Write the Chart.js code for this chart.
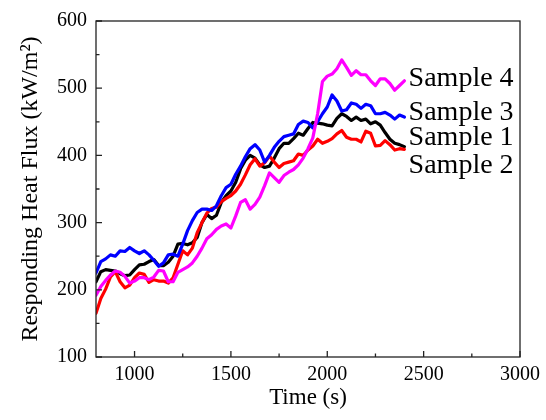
<!DOCTYPE html>
<html lang="en">
<head>
    <meta charset="UTF-8">
    <title>Responding Heat Flux</title>
    <script src="https://cdn.jsdelivr.net/npm/chart.js"></script>
    <style>
        body { margin: 0; background: #fff; }
    </style>
</head>
<body>
    <canvas id="fluxChart" width="546" height="420"></canvas>

    <script>
        // Time axis (s), shared by all four samples
        const timeS = [800, 825, 850, 875, 900, 925, 950, 975, 1000, 1025, 1050, 1075, 1100, 1125, 1150, 1175,
            1200, 1225, 1250, 1275, 1300, 1325, 1350, 1375, 1400, 1425, 1450, 1475, 1500, 1525, 1550, 1575,
            1600, 1625, 1650, 1675, 1700, 1725, 1750, 1775, 1800, 1825, 1850, 1875, 1900, 1925, 1950, 1975,
            2000, 2025, 2050, 2075, 2100, 2125, 2150, 2175, 2200, 2225, 2250, 2275, 2300, 2325, 2350, 2375, 2400];

        // Responding heat flux (kW/m2)
        const sample1 = [212, 227, 230, 229, 228, 224, 221, 222, 230, 237, 238, 242, 245, 236, 236, 241,
            250, 268, 269, 267, 270, 278, 300, 312, 306, 311, 330, 340, 347, 360, 380, 393,
            400, 396, 386, 382, 384, 396, 410, 418, 418, 425, 433, 430, 440, 449, 448, 447,
            445, 444, 455, 462, 458, 452, 457, 452, 454, 447, 450, 445, 434, 424, 418, 416, 413];
        const sample2 = [165, 187, 201, 219, 227, 212, 203, 207, 218, 225, 223, 211, 215, 213, 213, 210,
            218, 238, 258, 252, 262, 285, 300, 314, 321, 323, 331, 336, 340, 347, 357, 371,
            386, 395, 384, 389, 399, 390, 382, 388, 390, 392, 402, 400, 408, 414, 424, 418,
            421, 425, 432, 437, 427, 424, 424, 420, 436, 433, 414, 415, 422, 416, 408, 410, 409];
        const sample3 = [225, 242, 246, 252, 250, 258, 257, 263, 258, 254, 258, 252, 244, 235, 240, 252,
            253, 250, 268, 288, 303, 315, 320, 320, 318, 325, 340, 352, 357, 372, 384, 398,
            410, 416, 408, 390, 400, 412, 421, 428, 430, 432, 446, 451, 449, 441, 450, 462,
            472, 490, 481, 466, 468, 478, 476, 470, 476, 474, 462, 462, 464, 460, 454, 460, 457];
        const sample4 = [192, 205, 214, 222, 228, 226, 220, 210, 213, 218, 218, 215, 219, 229, 228, 212,
            212, 226, 230, 234, 240, 250, 262, 276, 282, 290, 295, 298, 292, 310, 330, 334,
            320, 327, 338, 355, 374, 367, 360, 370, 375, 379, 386, 396, 410, 426, 462, 510,
            518, 521, 529, 542, 531, 519, 526, 520, 520, 511, 504, 514, 514, 507, 497, 504, 511];

        // Axis ticks
        const xMajorTicks = [1000, 1500, 2000, 2500, 3000];
        const xMinorTicks = [1250, 1750, 2250, 2750];
        const yMajorTicks = [100, 200, 300, 400, 500, 600];
        const yMinorTicks = [150, 250, 350, 450, 550];

        // Labels written next to the curve ends
        const sampleNames = ['Sample 4', 'Sample 3', 'Sample 1', 'Sample 2'];
        const labelTime = 2422;
        const labelFlux = [504, 452, 415, 374];

        const serif = '"Liberation Serif", "Times New Roman", serif';

        function toPoints(values) {
            return timeS.map((t, i) => ({ x: t, y: values[i] }));
        }

        // Draws the box, inward tick marks and the sample labels
        const frameAndTicks = {
            id: 'frameAndTicks',
            afterDraw(chart) {
                const ctx = chart.ctx;
                const a = chart.chartArea;
                const x = chart.scales.x;
                const y = chart.scales.y;
                ctx.save();
                ctx.strokeStyle = '#222';
                ctx.lineWidth = 1.3;
                ctx.strokeRect(a.left, a.top, a.right - a.left, a.bottom - a.top);

                ctx.beginPath();
                xMajorTicks.forEach(v => {
                    const px = x.getPixelForValue(v);
                    ctx.moveTo(px, a.bottom); ctx.lineTo(px, a.bottom - 6);
                });
                xMinorTicks.forEach(v => {
                    const px = x.getPixelForValue(v);
                    ctx.moveTo(px, a.bottom); ctx.lineTo(px, a.bottom - 3.5);
                });
                yMajorTicks.forEach(v => {
                    const py = y.getPixelForValue(v);
                    ctx.moveTo(a.left, py); ctx.lineTo(a.left + 6, py);
                });
                yMinorTicks.forEach(v => {
                    const py = y.getPixelForValue(v);
                    ctx.moveTo(a.left, py); ctx.lineTo(a.left + 3.5, py);
                });
                ctx.stroke();

                ctx.fillStyle = '#000';
                ctx.font = '28px ' + serif;
                ctx.textAlign = 'left';
                ctx.textBaseline = 'alphabetic';
                sampleNames.forEach((name, i) => {
                    ctx.fillText(name, x.getPixelForValue(labelTime), y.getPixelForValue(labelFlux[i]));
                });
                ctx.restore();
            }
        };

        const ctx = document.getElementById('fluxChart').getContext('2d');
        new Chart(ctx, {
            type: 'line',
            data: {
                datasets: [
                    { label: 'Sample 4', data: toPoints(sample4), borderColor: '#ff00ff' },
                    { label: 'Sample 3', data: toPoints(sample3), borderColor: '#0000ff' },
                    { label: 'Sample 2', data: toPoints(sample2), borderColor: '#ff0000' },
                    { label: 'Sample 1', data: toPoints(sample1), borderColor: '#000000' }
                ]
            },
            options: {
                responsive: false,
                animation: false,
                layout: { padding: { top: 16, right: 25, left: 0, bottom: 0 } },
                elements: {
                    line: { borderWidth: 3.2, tension: 0, borderJoinStyle: 'round', borderCapStyle: 'round', fill: false },
                    point: { radius: 0 }
                },
                plugins: {
                    legend: { display: false },
                    tooltip: { enabled: false }
                },
                scales: {
                    x: {
                        type: 'linear',
                        min: 800,
                        max: 3000,
                        afterBuildTicks: scale => { scale.ticks = xMajorTicks.map(v => ({ value: v })); },
                        afterFit: scale => { scale.height = 63; },
                        grid: { display: false, drawTicks: false },
                        border: { display: false },
                        ticks: {
                            color: '#000',
                            padding: 6,
                            font: { family: serif, size: 20 },
                            callback: value => String(value)
                        },
                        title: {
                            display: true,
                            text: 'Time (s)',
                            color: '#000',
                            padding: { top: 0, bottom: 8 },
                            font: { family: serif, size: 23 }
                        }
                    },
                    y: {
                        min: 100,
                        max: 600,
                        afterBuildTicks: scale => { scale.ticks = yMajorTicks.map(v => ({ value: v })); },
                        afterFit: scale => { scale.width = 96; },
                        grid: { display: false, drawTicks: false },
                        border: { display: false },
                        ticks: {
                            color: '#000',
                            padding: 9,
                            font: { family: serif, size: 20 },
                            callback: value => String(value)
                        },
                        title: {
                            display: true,
                            text: 'Responding Heat Flux (kW/m²)',
                            color: '#000',
                            padding: { top: 16, bottom: 0 },
                            font: { family: serif, size: 24 }
                        }
                    }
                }
            },
            plugins: [frameAndTicks]
        });
    </script>
</body>
</html>
